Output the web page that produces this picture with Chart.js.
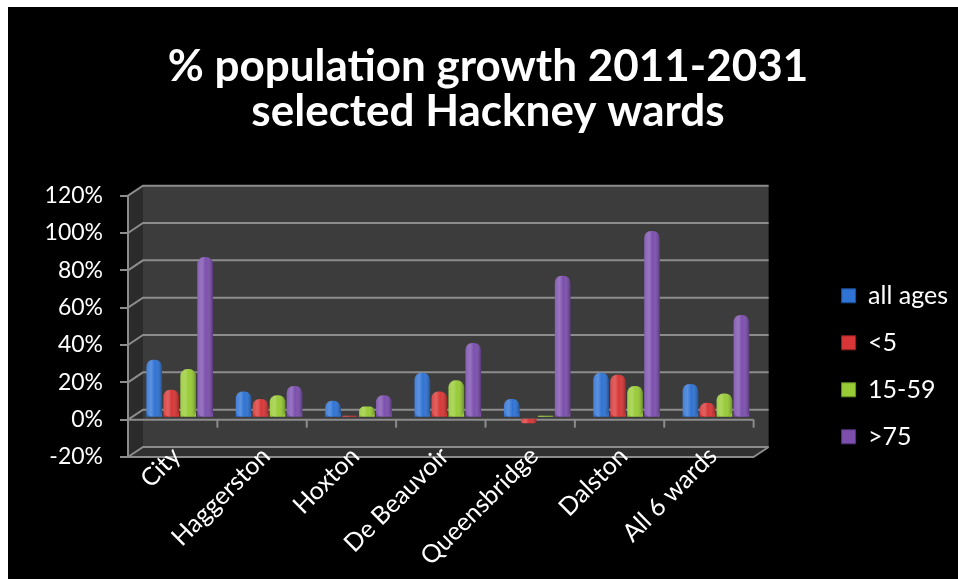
<!DOCTYPE html>
<html>
<head>
<meta charset="utf-8">
<script src="https://cdn.jsdelivr.net/npm/chart.js@4"></script>
<style>
  html, body { margin: 0; padding: 0; background: #fff; }
  #frame { position: absolute; left: 8px; top: 7px; width: 950px; height: 572px; background: #000; }
  canvas { display: block; }
</style>
</head>
<body>
<div id="frame"><canvas id="growthChart" width="950" height="572"></canvas></div>
<script>
const wards = ['City', 'Haggerston', 'Hoxton', 'De Beauvoir', 'Queensbridge', 'Dalston', 'All 6 wards'];
const allAges = [31, 14, 9, 24, 10, 24, 18];
const under5 = [15, 10, 1, 14, -3, 23, 8];
const age15to59 = [26, 12, 6, 20, 1, 17, 13];
const over75 = [86, 17, 12, 40, 76, 100, 55];
const yTicks = [-20, 0, 20, 40, 60, 80, 100, 120];

// 3d look: back wall offset and bar plane offset
const DX = 15, DY = -10;
const BX = 7, BY = -2;
const GRID = '#8c8c8c';
const LABEL_FONT = '25px Lato';

function poly(ctx, pts, fill) {
    ctx.beginPath();
    ctx.moveTo(pts[0][0], pts[0][1]);
    pts.slice(1).forEach(p => ctx.lineTo(p[0], p[1]));
    ctx.closePath();
    ctx.fillStyle = fill;
    ctx.fill();
}

function line(ctx, pts) {
    ctx.beginPath();
    ctx.moveTo(pts[0][0], pts[0][1]);
    pts.slice(1).forEach(p => ctx.lineTo(p[0], p[1]));
    ctx.stroke();
}

const wallsPlugin = {
    id: 'walls',
    beforeDraw(chart) {
        const { ctx, chartArea: a, scales: { y } } = chart;
        ctx.save();
        // back wall
        ctx.fillStyle = '#3c3c3c';
        ctx.fillRect(a.left + DX, a.top + DY, a.width, a.height);
        // left side wall
        poly(ctx, [[a.left, a.top], [a.left + DX, a.top + DY], [a.left + DX, a.bottom + DY], [a.left, a.bottom]], '#2b2b2b');
        // floor
        poly(ctx, [[a.left, a.bottom], [a.right, a.bottom], [a.right + DX, a.bottom + DY], [a.left + DX, a.bottom + DY]], '#303030');

        ctx.strokeStyle = GRID;
        ctx.lineWidth = 2;
        yTicks.forEach(v => {
            const py = y.getPixelForValue(v);
            line(ctx, [[a.left, py], [a.left + DX, py + DY], [a.right + DX, py + DY]]);
        });
        line(ctx, [[a.right, a.bottom], [a.right + DX, a.bottom + DY]]);
        ctx.restore();
    },
    beforeDatasetsDraw(chart) {
        const { ctx, chartArea: a, scales: { x, y } } = chart;
        // front zero line with category ticks
        const y0 = y.getPixelForValue(0);
        ctx.save();
        ctx.strokeStyle = GRID;
        ctx.lineWidth = 2;
        line(ctx, [[a.left, y0], [a.right, y0]]);
        for (let i = 0; i <= wards.length; i++) {
            const px = x.getPixelForValue(i - 0.5);
            line(ctx, [[px, y0], [px, y0 + 8]]);
        }
        ctx.restore();
        ctx.save();
        ctx.translate(BX, BY);
    },
    afterDatasetsDraw(chart) {
        const { ctx } = chart;
        // cylinder shading over each bar
        chart.data.datasets.forEach((ds, i) => {
            chart.getDatasetMeta(i).data.forEach(bar => {
                const left = bar.x - bar.width / 2;
                const top = Math.min(bar.y, bar.base);
                const h = Math.abs(bar.base - bar.y);
                const g = ctx.createLinearGradient(left, 0, left + bar.width, 0);
                g.addColorStop(0, 'rgba(255,255,255,0.10)');
                g.addColorStop(0.3, 'rgba(255,255,255,0.22)');
                g.addColorStop(0.55, 'rgba(255,255,255,0)');
                g.addColorStop(1, 'rgba(0,0,0,0.30)');
                ctx.fillStyle = g;
                ctx.beginPath();
                ctx.roundRect(left, top, bar.width, h, Math.min(6, bar.width / 2, h / 2));
                ctx.fill();
            });
        });
        ctx.restore();
    },
    afterDraw(chart) {
        // category labels sit partly on the 3d floor, so they are drawn here
        // (the axis would clip them to its own box)
        const { ctx, chartArea: a, scales: { x } } = chart;
        ctx.save();
        ctx.fillStyle = '#ffffff';
        ctx.font = LABEL_FONT;
        ctx.textAlign = 'right';
        ctx.textBaseline = 'top';
        wards.forEach((name, i) => {
            ctx.save();
            ctx.translate(x.getPixelForValue(i) - 5, a.bottom - 14);
            ctx.rotate(-Math.PI / 4);
            ctx.fillText(name, 0, 0);
            ctx.restore();
        });
        ctx.restore();
    }
};

const barStyle = { borderRadius: 7, borderSkipped: 'start', borderWidth: 0 };

new Chart(document.getElementById('growthChart'), {
    type: 'bar',
    data: {
        labels: wards,
        datasets: [
            { label: 'all ages', data: allAges, backgroundColor: '#2f73d4', borderColor: '#1d4f99', ...barStyle },
            { label: '<5', data: under5, backgroundColor: '#d83636', borderColor: '#922222', ...barStyle },
            { label: '15-59', data: age15to59, backgroundColor: '#98cb36', borderColor: '#66902a', ...barStyle },
            { label: '>75', data: over75, backgroundColor: '#7c4fae', borderColor: '#553579', ...barStyle }
        ]
    },
    options: {
        responsive: false,
        animation: false,
        layout: { padding: { left: 10, right: 0, top: 0, bottom: 0 } },
        datasets: { bar: { categoryPercentage: 0.76, barPercentage: 0.92 } },
        plugins: {
            title: {
                display: true,
                text: ['% population growth 2011-2031', 'selected Hackney wards'],
                color: '#ffffff',
                font: { family: 'Lato', size: 44, weight: 'bold', lineHeight: 1.03 },
                padding: { top: 37, bottom: 61 }
            },
            legend: {
                position: 'right',
                align: 'center',
                title: {
                    display: true,
                    text: '',
                    font: { size: 13, lineHeight: 1.2 },
                    padding: { top: 131, bottom: 0 }
                },
                labels: {
                    color: '#ffffff',
                    font: { family: 'Lato', size: 25 },
                    boxWidth: 14,
                    boxHeight: 14,
                    padding: 22,
                    generateLabels(chart) {
                        return chart.data.datasets.map((ds, i) => ({
                            text: ds.label,
                            fillStyle: ds.backgroundColor,
                            strokeStyle: ds.borderColor,
                            lineWidth: 1,
                            fontColor: '#ffffff',
                            datasetIndex: i
                        }));
                    }
                }
            },
            tooltip: { enabled: false }
        },
        scales: {
            x: {
                grid: { display: false },
                border: { display: true, color: GRID, width: 2 },
                ticks: { display: false },
                afterFit(scale) { scale.height = 122; }
            },
            y: {
                min: -20,
                max: 120,
                grid: { drawOnChartArea: false, drawTicks: true, tickLength: 8, color: GRID, lineWidth: 2 },
                border: { display: true, color: GRID, width: 2 },
                ticks: {
                    stepSize: 20,
                    color: '#ffffff',
                    font: { family: 'Lato', size: 23 },
                    padding: 17,
                    callback: v => v + '%'
                },
                afterFit(scale) { scale.width = 110; }
            },
            y2: {
                position: 'right',
                display: true,
                grid: { display: false },
                border: { display: false },
                ticks: { display: false },
                afterFit(scale) { scale.width = 66; }
            }
        }
    },
    plugins: [wallsPlugin]
});
</script>
</body>
</html>
